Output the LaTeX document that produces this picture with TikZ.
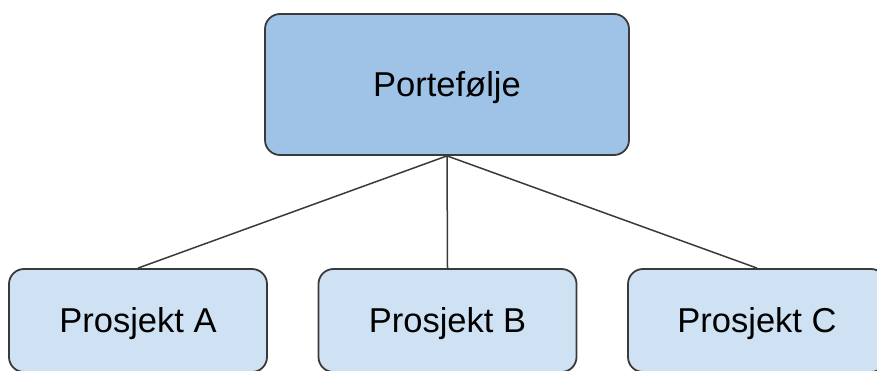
\documentclass[tikz,border=0pt]{standalone}
\usepackage{fontspec}
\setmainfont{Liberation Sans}
\definecolor{topfill}{HTML}{9FC3E7}
\definecolor{subfill}{HTML}{CFE2F3}
\definecolor{edge}{HTML}{3A3A3A}
\tikzset{
  box/.style={draw=edge, line width=1.8pt, rounded corners=15pt,
    font=\fontsize{34.5}{38}\selectfont, text height=24.7pt, text depth=0pt,
    inner sep=0pt},
  topbox/.style={box, fill=topfill, minimum width=364pt, minimum height=141pt},
  subbox/.style={box, fill=subfill, minimum width=258pt, minimum height=103pt},
  link/.style={draw=edge, line width=1.5pt}
}
\begin{document}
\begin{tikzpicture}[x=1pt, y=-1pt]
  \useasboundingbox (0,0) rectangle (877,371);
  \begin{scope}
    \clip (0,0) rectangle (877,371);
    \node[topbox] (port) at (447,84.5) {Portefølje};
    \node[subbox] (pa) at (138,320.5) {Prosjekt A};
    \node[subbox] (pb) at (447.5,320.5) {Prosjekt B};
    \node[subbox] (pc) at (757,320.5) {Prosjekt C};
    \draw[link] (port.south) -- (pa.north);
    \draw[link] (port.south) -- (pb.north);
    \draw[link] (port.south) -- (pc.north);
  \end{scope}
\end{tikzpicture}
\end{document}
